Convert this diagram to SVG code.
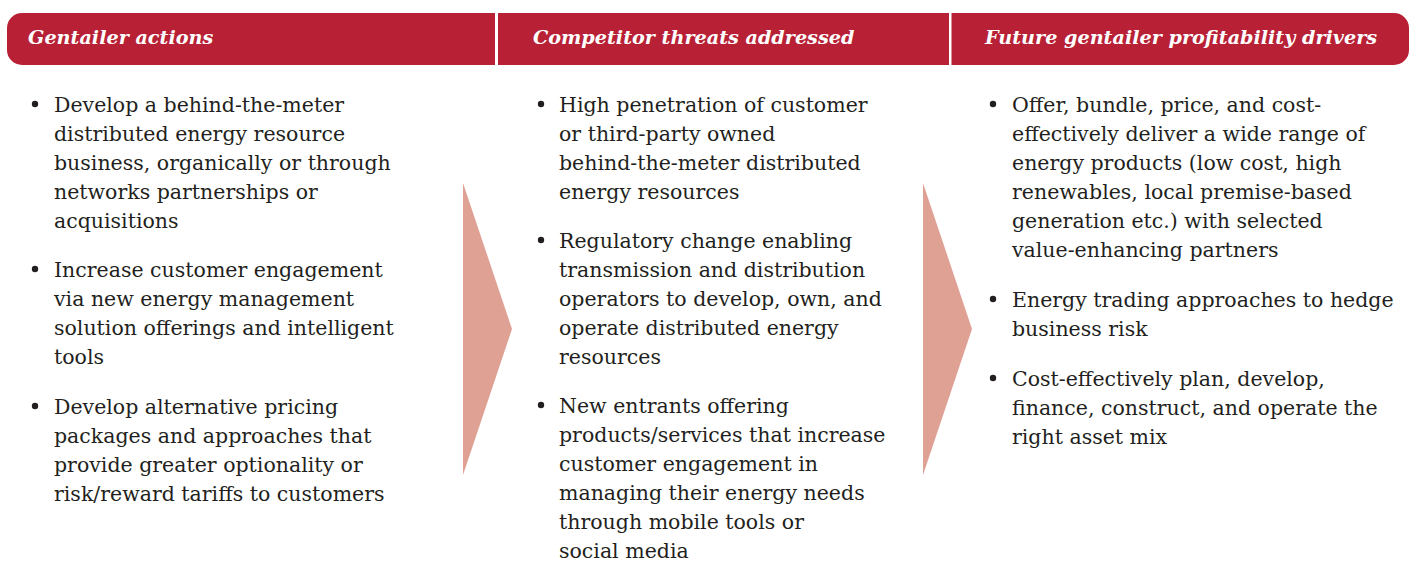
<svg xmlns="http://www.w3.org/2000/svg" width="1410" height="580" viewBox="0 0 1410 580">
<style>
.hdr{font-family:"DejaVu Serif","Liberation Serif",serif;font-weight:bold;font-style:italic;font-size:19.2px;fill:#ffffff}
.body{font-family:"DejaVu Serif","Liberation Serif",serif;font-size:20.5px;fill:#231f20}
.dot{fill:#231f20}
.arrow{fill:#e0a195}
</style>
<rect width="1410" height="580" fill="#ffffff"/>
<g id="header">
<rect x="7" y="13" width="1402" height="52" rx="15" ry="15" fill="#b82035"/>
<rect x="495" y="13" width="3" height="52" fill="#ffffff"/>
<rect x="949" y="13" width="2.5" height="52" fill="#ffffff"/>
<text class="hdr" x="28" y="44">Gentailer actions</text>
<text class="hdr" x="533" y="44">Competitor threats addressed</text>
<text class="hdr" x="985" y="44">Future gentailer profitability drivers</text>
</g>
<g id="connectors">
<polygon class="arrow" points="463,183 512,329 463,475"/>
<polygon class="arrow" points="923,183 972,329 923,475"/>
</g>
<g id="col1">
<circle class="dot" cx="35" cy="104" r="3.2"/>
<text class="body" x="54" y="112">Develop a behind-the-meter</text>
<text class="body" x="54" y="141">distributed energy resource</text>
<text class="body" x="54" y="170">business, organically or through</text>
<text class="body" x="54" y="199">networks partnerships or</text>
<text class="body" x="54" y="228">acquisitions</text>
<circle class="dot" cx="35" cy="269" r="3.2"/>
<text class="body" x="54" y="277">Increase customer engagement</text>
<text class="body" x="54" y="306">via new energy management</text>
<text class="body" x="54" y="335">solution offerings and intelligent</text>
<text class="body" x="54" y="364">tools</text>
<circle class="dot" cx="35" cy="406" r="3.2"/>
<text class="body" x="54" y="414">Develop alternative pricing</text>
<text class="body" x="54" y="443">packages and approaches that</text>
<text class="body" x="54" y="472">provide greater optionality or</text>
<text class="body" x="54" y="501">risk/reward tariffs to customers</text>
</g>
<g id="col2">
<circle class="dot" cx="541" cy="104" r="3.2"/>
<text class="body" x="559" y="112">High penetration of customer</text>
<text class="body" x="559" y="141">or third-party owned</text>
<text class="body" x="559" y="170">behind-the-meter distributed</text>
<text class="body" x="559" y="199">energy resources</text>
<circle class="dot" cx="541" cy="240" r="3.2"/>
<text class="body" x="559" y="248">Regulatory change enabling</text>
<text class="body" x="559" y="277">transmission and distribution</text>
<text class="body" x="559" y="306">operators to develop, own, and</text>
<text class="body" x="559" y="335">operate distributed energy</text>
<text class="body" x="559" y="364">resources</text>
<circle class="dot" cx="541" cy="405" r="3.2"/>
<text class="body" x="559" y="413">New entrants offering</text>
<text class="body" x="559" y="442">products/services that increase</text>
<text class="body" x="559" y="471">customer engagement in</text>
<text class="body" x="559" y="500">managing their energy needs</text>
<text class="body" x="559" y="529">through mobile tools or</text>
<text class="body" x="559" y="558">social media</text>
</g>
<g id="col3">
<circle class="dot" cx="993" cy="104" r="3.2"/>
<text class="body" x="1012" y="112">Offer, bundle, price, and cost-</text>
<text class="body" x="1012" y="141">effectively deliver a wide range of</text>
<text class="body" x="1012" y="170">energy products (low cost, high</text>
<text class="body" x="1012" y="199">renewables, local premise-based</text>
<text class="body" x="1012" y="228">generation etc.) with selected</text>
<text class="body" x="1012" y="257">value-enhancing partners</text>
<circle class="dot" cx="993" cy="299" r="3.2"/>
<text class="body" x="1012" y="307">Energy trading approaches to hedge</text>
<text class="body" x="1012" y="336">business risk</text>
<circle class="dot" cx="993" cy="378" r="3.2"/>
<text class="body" x="1012" y="386">Cost-effectively plan, develop,</text>
<text class="body" x="1012" y="415">finance, construct, and operate the</text>
<text class="body" x="1012" y="444">right asset mix</text>
</g>
</svg>
